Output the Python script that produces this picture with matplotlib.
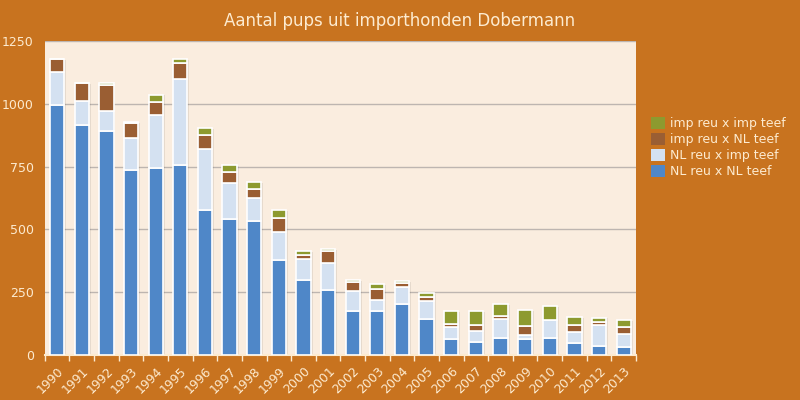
import numpy as np
import matplotlib.pyplot as plt
from matplotlib.patches import Patch

# ----------- DONNÉES -----------
jaren = [str(j) for j in range(1990, 2014)]
nl_nl = [995, 914, 890, 738, 746, 757, 579, 543, 535, 379, 299, 259,
         177, 177, 202, 142, 62, 50, 68, 64, 68, 46, 36, 32]
nl_imp = [130, 97, 81, 124, 208, 340, 243, 143, 91, 109, 82, 108,
          76, 40, 69, 73, 50, 44, 77, 16, 72, 46, 82, 53]
imp_nl = [52, 70, 105, 60, 53, 65, 52, 44, 36, 59, 19, 49,
          38, 44, 16, 14, 12, 27, 9, 34, 0, 29, 12, 25]
imp_imp = [0, 0, 8, 6, 30, 15, 30, 27, 27, 29, 15, 5,
           7, 22, 7, 18, 50, 53, 48, 64, 54, 29, 19, 28]

series = [
    ("NL reu x NL teef", nl_nl, "#4F87C8"),
    ("NL reu x imp teef", nl_imp, "#D4E1F1"),
    ("imp reu x NL teef", imp_nl, "#9A5E33"),
    ("imp reu x imp teef", imp_imp, "#8D9A2F"),
]

oranje = "#C8731F"
tekst = "#FDEBD0"

# ----------- FIGUUR -----------
fig = plt.figure(figsize=(8, 4), dpi=100)
fig.patch.set_facecolor(oranje)

ax = fig.add_axes([0.056, 0.1125, 0.739, 0.785])
ax.set_facecolor("#FAEDDF")

x = np.arange(len(jaren))
bottom = np.zeros(len(jaren))
for naam, vals, kleur in series:
    vals = np.array(vals)
    # schaduw
    ax.bar(x + 0.08, vals, width=0.58, bottom=bottom - 3, color="#000000",
           alpha=0.08, linewidth=0, zorder=2)
    ax.bar(x, vals, width=0.58, bottom=bottom, color=kleur,
           edgecolor="white", linewidth=1.2, zorder=3)
    bottom += vals

ax.set_xlim(-0.5, len(jaren) - 0.5)
ax.set_ylim(0, 1250)
ax.set_yticks([0, 250, 500, 750, 1000, 1250])
ax.yaxis.grid(True, color="#BDB5B0", linewidth=1, zorder=0)
ax.set_axisbelow(True)

ax.set_xticks(x)
ax.set_xticklabels(jaren, rotation=45, ha="right", rotation_mode="anchor",
                   color=tekst, fontsize=9)
ax.set_xticks(np.arange(len(jaren) + 1) - 0.5, minor=True)
ax.tick_params(axis="x", which="major", length=0, pad=7)
ax.tick_params(axis="x", which="minor", length=4, color=tekst, width=1)
ax.tick_params(axis="y", length=0, colors=tekst, labelsize=9, pad=8)

for s in ["top", "right", "left"]:
    ax.spines[s].set_visible(False)
ax.spines["bottom"].set_color(tekst)
ax.spines["bottom"].set_linewidth(1.5)

fig.text(0.5, 0.948, "Aantal pups uit importhonden Dobermann",
         ha="center", va="center", color=tekst, fontsize=12)

# Legende (omgekeerde volgorde, zonder witte rand)
handles = [Patch(facecolor=k, edgecolor="none") for _, _, k in series][::-1]
labels = [n for n, _, _ in series][::-1]
fig.legend(handles, labels, loc="upper left", bbox_to_anchor=(0.8, 0.735),
           frameon=False, fontsize=9, labelcolor=tekst,
           handlelength=1.1, handleheight=1.1, handletextpad=0.4,
           labelspacing=0.2)

fig.savefig("out.png", dpi=100, facecolor=oranje)
